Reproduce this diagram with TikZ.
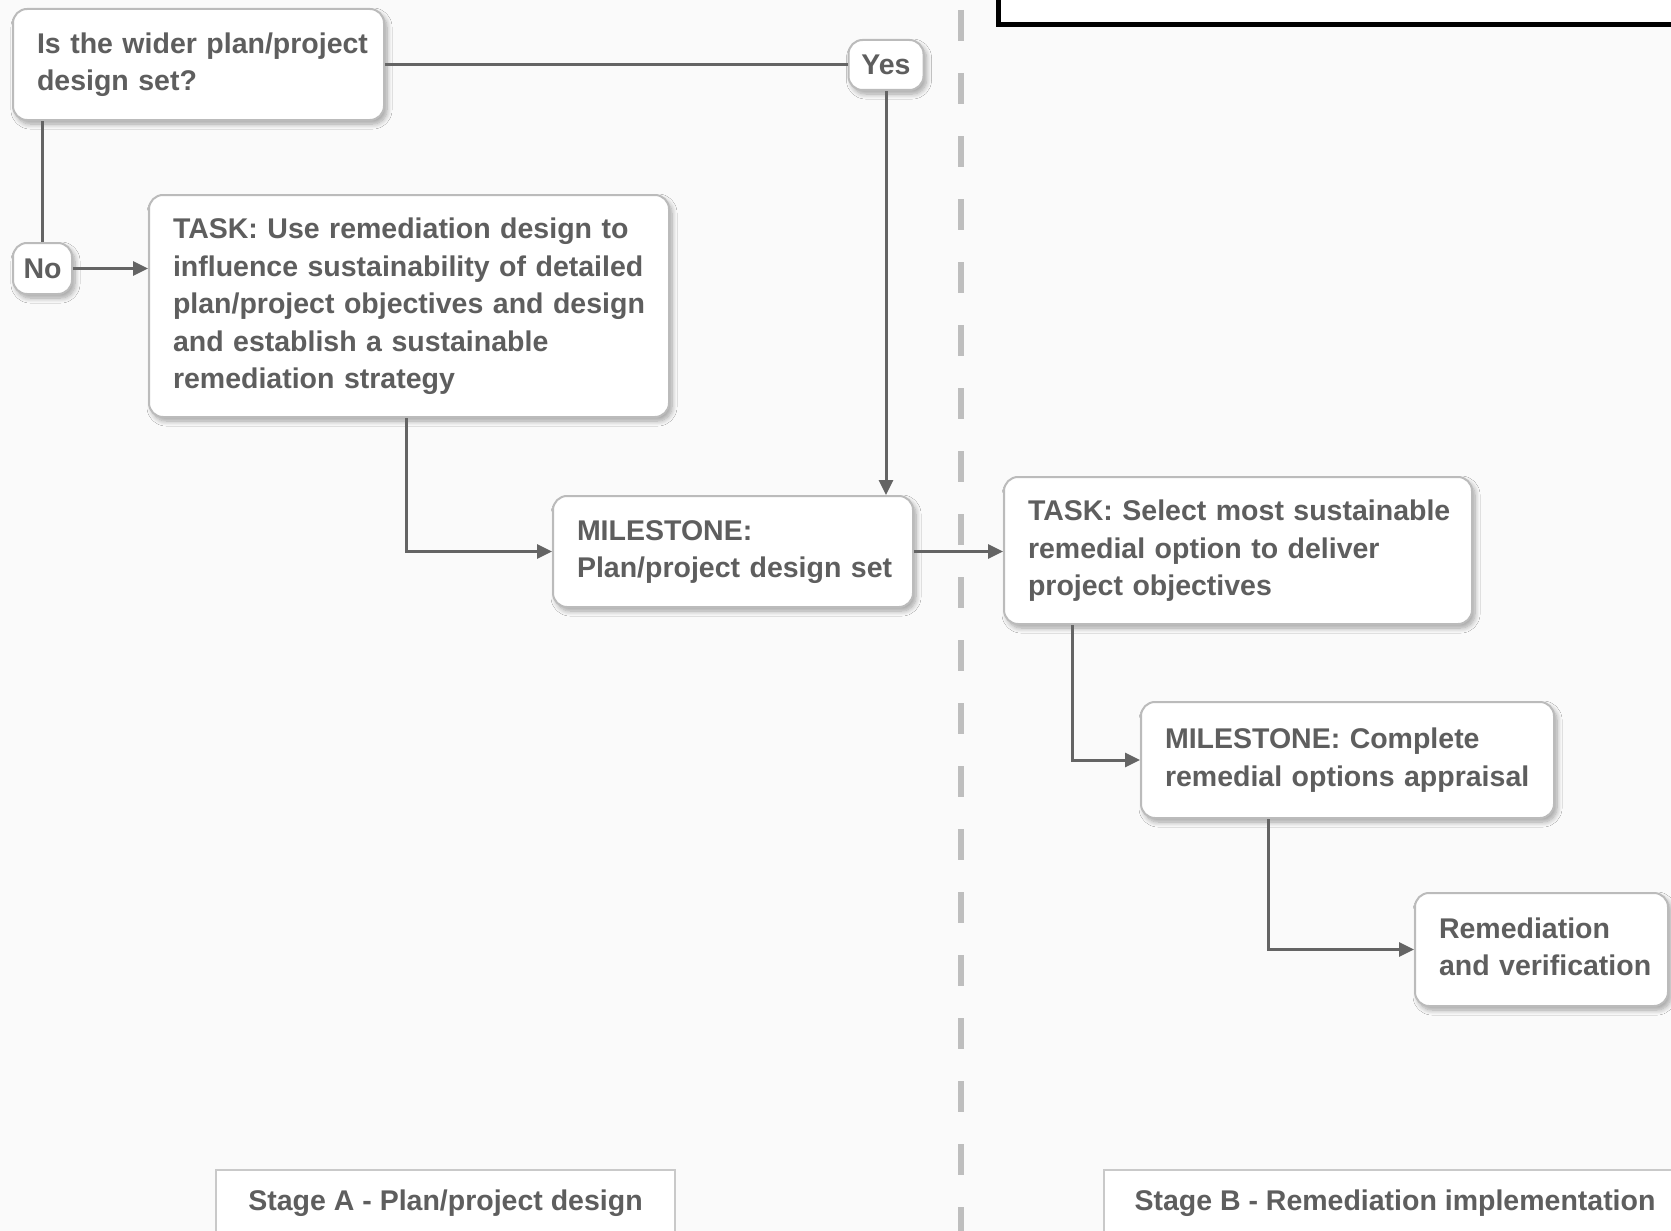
\documentclass[tikz,border=0pt]{standalone}
\usepackage{fontspec}
\setmainfont{Liberation Sans}
\usetikzlibrary{arrows.meta,shadows.blur}

\definecolor{ink}{HTML}{5E5E5E}
\definecolor{rim}{HTML}{BBBBBB}
\definecolor{wire}{HTML}{646464}
\definecolor{canvas}{HTML}{FAFAFA}
\definecolor{divider}{HTML}{BEBEBE}

% set the given lines left-aligned, without any re-breaking
\newcommand\cardtext[1]{\begin{tabular}{@{}l@{}}#1\end{tabular}}

\tikzset{
  label font/.style={font=\bfseries\fontsize{28.5}{37.5}\selectfont, text=ink},
  soft shadow/.style={blur shadow={shadow xshift=3pt, shadow yshift=-4pt,
      shadow blur radius=5pt, shadow blur steps=8, shadow opacity=35}},
  card/.style={label font, draw=rim, line width=2pt, fill=white,
    rounded corners=14pt, align=left, inner xsep=24pt, inner ysep=0pt,
    soft shadow},
  answer/.style={label font, draw=rim, line width=2pt, fill=white,
    rounded corners=14pt, align=center, inner sep=0pt, soft shadow},
  stagebox/.style={label font, draw=rim!80, line width=2pt, fill=white,
    align=center, inner sep=0pt},
  link/.style={draw=wire, line width=3pt},
  flow/.style={link, -{Triangle[length=15pt,width=14pt]}},
}

\begin{document}
\begin{tikzpicture}[x=1pt, y=-1pt]
  % canvas
  \fill[canvas] (0,0) rectangle (1671,1231);
  \useasboundingbox (0,0) rectangle (1671,1231);

  % stage divider
  \draw[divider, line width=6pt, dash pattern=on 31pt off 32pt, dash phase=-10pt]
    (961,0) -- (961,1231);

  % framed panel at the top right
  \draw[black, line width=5pt, fill=white] (998,-20) rectangle (1700,25);

  % stage A nodes
  \node[card, minimum width=371pt, minimum height=111pt, text width=323pt]
    (question) at (198.5,64.5) {\cardtext{Is the wider plan/project\\design set?}};
  \node[answer, minimum width=75pt, minimum height=50pt]
    (yes) at (886,65) {Yes};
  \node[answer, minimum width=59pt, minimum height=51pt]
    (no) at (42.5,268.5) {No};
  \node[card, minimum width=520pt, minimum height=222pt, text width=472pt]
    (taskA) at (409,306) {\cardtext{TASK: Use remediation design to\\influence sustainability of detailed\\plan/project objectives and design\\and establish a sustainable\\remediation strategy}};
  \node[card, minimum width=360pt, minimum height=111pt, text width=312pt]
    (mileA) at (733,551.5) {\cardtext{MILESTONE:\\Plan/project design set}};

  % stage B nodes
  \node[card, minimum width=468pt, minimum height=147pt, text width=420pt]
    (taskB) at (1238,550.5) {\cardtext{TASK: Select most sustainable\\remedial option to deliver\\project objectives}};
  \node[card, minimum width=413pt, minimum height=116pt, text width=365pt]
    (mileB) at (1347.5,760) {\cardtext{MILESTONE: Complete\\remedial options appraisal}};
  \node[card, minimum width=253pt, minimum height=113pt, text width=205pt]
    (verify) at (1541.5,949.5) {\cardtext{Remediation\\and verification}};

  % stage captions
  \node[stagebox, minimum width=459pt, minimum height=66pt]
    (stageA) at (445.5,1203) {Stage A - Plan/project design};
  \node[stagebox, minimum width=582pt, minimum height=66pt]
    (stageB) at (1395,1203) {Stage B - Remediation implementation};

  % connectors
  \draw[link] (question.east) -- (question.east -| yes.west);
  \draw[flow] (yes.south) -- (yes.south |- mileA.north);
  \draw[link] (no.north |- question.south) -- (no.north);
  \draw[flow] (no.east) -- (no.east -| taskA.west);
  \draw[flow] ([xshift=-3pt]taskA.south) |- (mileA.west);
  \draw[flow] (mileA.east) -- (mileA.east -| taskB.west);
  \draw[flow] ([xshift=69pt]taskB.south west) |- (mileB.west);
  \draw[flow] ([xshift=128pt]mileB.south west) |- (verify.west);
\end{tikzpicture}
\end{document}
